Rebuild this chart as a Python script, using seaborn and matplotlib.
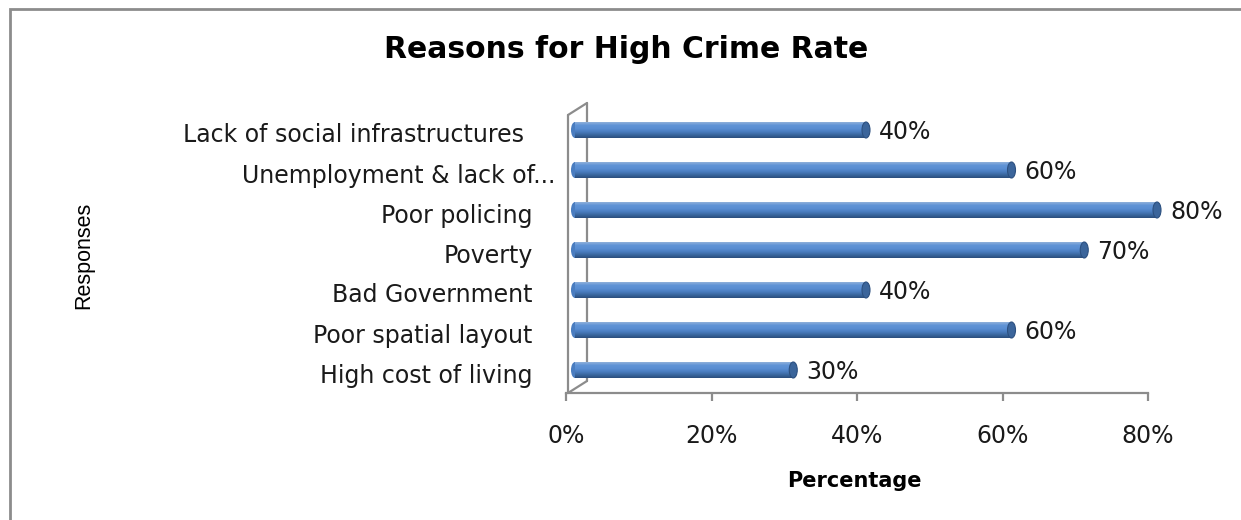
import numpy as np
import matplotlib
matplotlib.use("Agg")
import matplotlib.pyplot as plt
from matplotlib.colors import LinearSegmentedColormap
from matplotlib.patches import Ellipse, Rectangle
from matplotlib.lines import Line2D
from matplotlib.transforms import ScaledTranslation
import seaborn as sns

# Survey responses
categories = [
    "Lack of social infrastructures",
    "Unemployment & lack of...",
    "Poor policing",
    "Poverty",
    "Bad Government",
    "Poor spatial layout",
    "High cost of living",
]
percentages = [40, 60, 80, 70, 40, 60, 30]
x_ticks = [0, 20, 40, 60, 80]
x_tick_labels = ["0%", "20%", "40%", "60%", "80%"]

sns.set_theme(style="white")
plt.rcParams["font.family"] = ["DejaVu Sans"]

W, H = 1241, 520
fig = plt.figure(figsize=(W / 100, H / 100), dpi=100)

def px(x0, y0, x1, y1):
    return [x0 / W, 1 - y1 / H, (x1 - x0) / W, (y1 - y0) / H]

ax = fig.add_axes(px(566, 103, 1148, 393))

sns.barplot(x=percentages, y=categories, orient="h", color="#4F81BD",
            width=0.4, linewidth=0, ax=ax)

XMIN, XMAX = 0, 80
YLO, YHI = 6.575, -0.675
ax.set_xlim(XMIN, XMAX)
ax.set_ylim(YLO, YHI)

ppx = (1148 - 566) / (XMAX - XMIN)   # pixels per x unit
depth = ScaledTranslation(9 / 100, 0, fig.dpi_scale_trans)
tr = ax.transData + depth

cyl = LinearSegmentedColormap.from_list(
    "cyl", ["#8FB0DA", "#5F93D6", "#5A8ED3", "#4A7DC0", "#3A679F", "#2A4D7C"])
grad = np.linspace(0, 1, 64).reshape(-1, 1)
cap_w = 8 / ppx

for p in list(ax.patches):
    x, y, w, h = p.get_x(), p.get_y(), p.get_width(), p.get_height()
    p.set_transform(tr)
    p.set_zorder(3)
    p.set_clip_on(False)
    left = Ellipse((x, y + h / 2), cap_w, h, transform=tr,
                   facecolor="#4A7DC0", edgecolor="none", zorder=2.5,
                   clip_on=False)
    ax.add_patch(left)
    im = ax.imshow(grad, cmap=cyl, aspect="auto", origin="upper",
                   extent=(x, x + w, y + h, y), transform=tr, zorder=3.5,
                   interpolation="bilinear")
    im.set_clip_box(fig.bbox)
    im.set_clip_path(p)
    cap = Ellipse((x + w, y + h / 2), cap_w, h, transform=tr,
                  facecolor="#3B659B", edgecolor="#2C5080", linewidth=0.8,
                  zorder=4, clip_on=False)
    ax.add_patch(cap)

ax.set_xlim(XMIN, XMAX)
ax.set_ylim(YLO, YHI)

TXT = "#1a1a1a"
# value labels
lab_tr = ax.transData + ScaledTranslation(22 / 100, -2 / 100, fig.dpi_scale_trans)
for i, v in enumerate(percentages):
    ax.text(v, i, f"{v}%", transform=lab_tr, ha="left", va="center",
            fontsize=17, color=TXT, clip_on=False)

# 3-D wall and floor outline
gray = "#8C8C8C"
def dx(p):
    return (p - 566) / ppx
def dy(p):
    return (p - 130) / 40
wall = [
    ((568, 115), (568, 393)),
    ((587, 103), (587, 381)),
    ((568, 115), (587, 103)),
    ((568, 393), (587, 381)),
]
for (a, b) in wall:
    ax.add_line(Line2D([dx(a[0]), dx(b[0])], [dy(a[1]), dy(b[1])],
                       color=gray, linewidth=1.6, zorder=1, clip_on=False))

for s in ["top", "right", "left"]:
    ax.spines[s].set_visible(False)
ax.spines["bottom"].set_color(gray)
ax.spines["bottom"].set_linewidth(1.6)

ax.set_xticks(x_ticks)
ax.set_xticklabels(x_tick_labels)
ax.tick_params(axis="x", direction="out", length=6, width=1.6, color=gray,
               pad=16, labelsize=17, labelcolor=TXT, bottom=True)
ax.tick_params(axis="y", length=0, pad=24, labelsize=17, labelcolor=TXT)
ax.set_xlabel("")
ax.set_ylabel("")
ax.grid(False)

shifts = {1: 23, 0: -9}
for i, t in enumerate(ax.get_yticklabels()):
    dxp = shifts.get(i, 0)
    t.set_transform(t.get_transform()
                    + ScaledTranslation(dxp / 100, -3 / 100, fig.dpi_scale_trans))

fig.text(626 / W, 1 - 50 / H, "Reasons for High Crime Rate", ha="center",
         va="center", fontsize=21.5, fontweight="bold", color="black")
fig.text(854 / W, 1 - 481 / H, "Percentage", ha="center", va="center",
         fontsize=15, fontweight="bold", color="black")
fig.text(84 / W, 1 - 255 / H, "Responses", ha="center", va="center",
         rotation=90, fontsize=15.5, color="black",
         family=["Liberation Sans Narrow", "Liberation Sans", "DejaVu Sans"])

# chart frame
fig.patches.append(Rectangle((10 / W, -0.5), 2, 1 - 9 / H + 0.5,
                             transform=fig.transFigure, fill=False,
                             edgecolor="#8C8C8C", linewidth=2))

fig.savefig("out.png", dpi=100, facecolor="white")
